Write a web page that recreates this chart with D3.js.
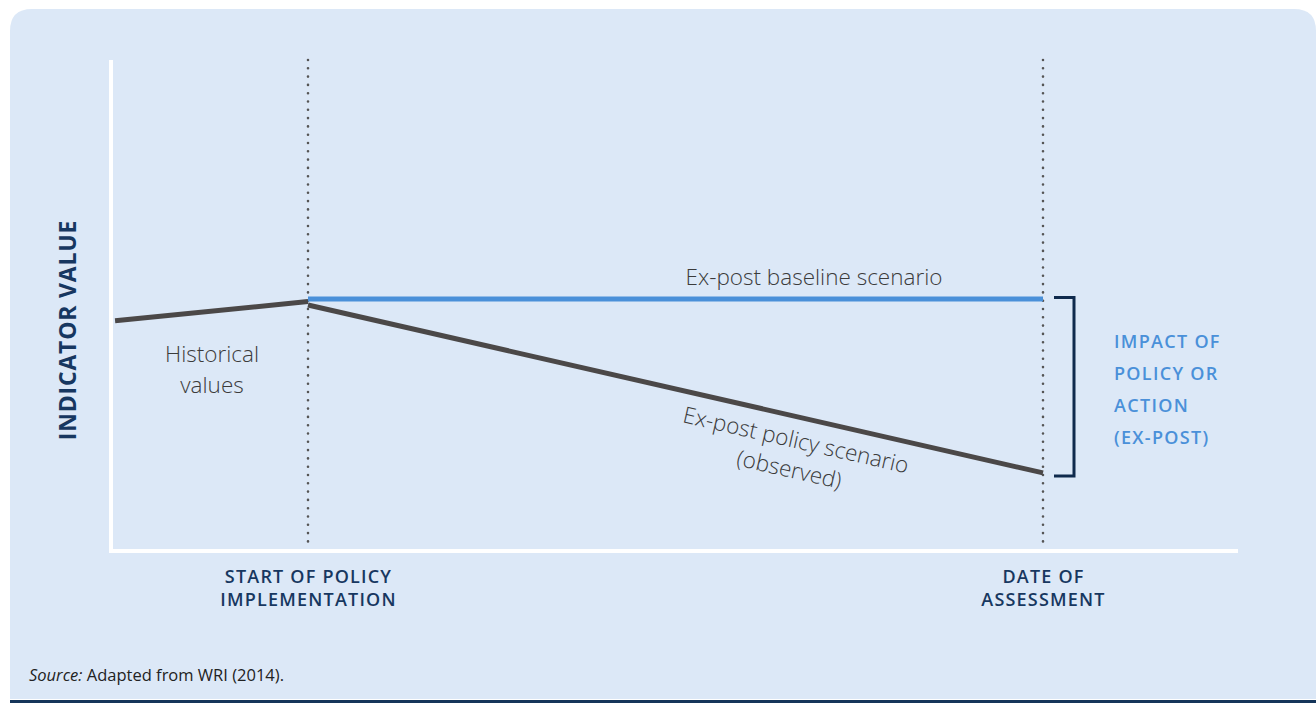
<!DOCTYPE html>
<html><head><meta charset="utf-8">
<script src="https://cdn.jsdelivr.net/npm/d3@7"></script>
<style>
html,body{margin:0;padding:0;background:#fff;}
svg{display:block;font-family:"Open Sans",sans-serif;}
</style></head>
<body>
<svg id="chart" width="1316" height="703"></svg>
<script>
// ---- data ----
const milestoneTimes = [1, 5];
const milestoneLabels = [["START OF POLICY", "IMPLEMENTATION"], ["DATE OF", "ASSESSMENT"]];
const historicalSeries = [{t: -0.05, v: 46.9}, {t: 1, v: 50.8}];
const baselineSeries = [{t: 1, v: 51.3}, {t: 5, v: 51.3}];
const policySeries = [{t: 1, v: 50.1}, {t: 5, v: 15.9}];
const impactLabel = ["IMPACT OF", "POLICY OR", "ACTION", "(EX-POST)"];
const historicalLabel = ["Historical", "values"];
const baselineLabel = "Ex-post baseline scenario";
const policyLabel = ["Ex-post policy scenario", "(observed)"];
const yAxisTitle = "INDICATOR VALUE";

const svg = d3.select("#chart");
const navy = "#173760", blue = "#4a90d9", gray = "#4b4848", panel = "#dce8f7";
const FONT = '"Open Sans", sans-serif';

// panel
const P = {x0: 10, y0: 9, x1: 1316, y1: 699, r: 22};
svg.append("path")
  .attr("d", `M${P.x0},${P.y1} V${P.y0 + P.r} Q${P.x0},${P.y0} ${P.x0 + P.r},${P.y0} H${P.x1 - P.r} Q${P.x1},${P.y0} ${P.x1},${P.y0 + P.r} V${P.y1} Z`)
  .attr("fill", panel);
svg.append("rect").attr("x", 10).attr("y", 700).attr("width", 1306).attr("height", 3).attr("fill", "#15355a");

// scales
const x = d3.scaleLinear().domain([1, 5]).range([308, 1043]);
const y = d3.scaleLinear().domain([0, 100]).range([551, 60]);
const xEnd = 1238;

// axes
const xAxis = d3.axisBottom(x).tickValues(milestoneTimes).tickSize(0).tickSizeOuter(0).tickFormat("");
const gx = svg.append("g").attr("transform", `translate(0,${y(0)})`).call(xAxis).attr("font-family", FONT);
gx.select(".domain").attr("d", `M109,0H${xEnd}`).attr("stroke", "#fff").attr("stroke-width", 4);
gx.selectAll(".tick").each(function(d, i) {
  const t = d3.select(this).select("text").text(null)
    .attr("fill", navy).attr("font-size", 18).attr("font-weight", 600)
    .attr("letter-spacing", 1.2).attr("y", 0).attr("dy", null);
  milestoneLabels[i].forEach((s, j) => t.append("tspan").attr("x", 0).attr("y", 32 + j * 23).text(s));
});

const yAxis = d3.axisLeft(y).tickValues([]).tickSizeOuter(0);
const gy = svg.append("g").attr("transform", `translate(111,0)`).call(yAxis);
gy.select(".domain").attr("d", `M0,${y(100)}V${y(0) + 2}`).attr("stroke", "#fff").attr("stroke-width", 4);

// dotted verticals
svg.selectAll(".vdot").data(milestoneTimes).join("line")
  .attr("x1", d => x(d)).attr("x2", d => x(d))
  .attr("y1", y(100)).attr("y2", y(0) - 3)
  .attr("stroke", "#555").attr("stroke-width", 2.6)
  .attr("stroke-linecap", "round").attr("stroke-dasharray", "0 8.3");

// lines
const line = d3.line().x(d => x(d.t)).y(d => y(d.v));
svg.append("path").datum(historicalSeries).attr("d", line).attr("fill", "none").attr("stroke", gray).attr("stroke-width", 5);
svg.append("path").datum(policySeries).attr("d", line).attr("fill", "none").attr("stroke", gray).attr("stroke-width", 5);
svg.append("path").datum(baselineSeries).attr("d", line).attr("fill", "none").attr("stroke", blue).attr("stroke-width", 5);

// bracket
const bTop = y(baselineSeries[1].v) - 1.5, bBot = y(policySeries[1].v) + 3;
svg.append("path").attr("d", `M1054,${bTop}H1074V${bBot}H1054`)
  .attr("fill", "none").attr("stroke", "#0f2a4d").attr("stroke-width", 3);

// impact label
const imp = svg.append("text").attr("fill", blue).attr("font-size", 18).attr("font-weight", 600).attr("letter-spacing", 1.3);
impactLabel.forEach((s, i) => imp.append("tspan").attr("x", 1114).attr("y", 348 + i * 32).text(s));

// historical label
const hist = svg.append("text").attr("fill", "#3b3b3b").attr("font-size", 22.5).attr("font-weight", 300).attr("text-anchor", "middle");
historicalLabel.forEach((s, i) => hist.append("tspan").attr("x", 212).attr("y", 362 + i * 31).text(s));

// baseline label
svg.append("text").attr("x", 814).attr("y", 285).attr("fill", "#3b3b3b")
  .attr("font-size", 22.5).attr("font-weight", 300).attr("text-anchor", "middle").text(baselineLabel);

// policy label rotated along the line
const ang = Math.atan2(y(policySeries[1].v) - y(policySeries[0].v), x(5) - x(1)) * 180 / Math.PI;
const pol = svg.append("text").attr("transform", `translate(796,440) rotate(${ang})`)
  .attr("fill", "#3b3b3b").attr("font-size", 22.5).attr("font-weight", 300).attr("text-anchor", "middle");
policyLabel.forEach((s, i) => pol.append("tspan").attr("x", 0).attr("y", 8 + i * 30).text(s));

// y axis title
svg.append("text").attr("transform", "translate(76,330) rotate(-90)").attr("text-anchor", "middle")
  .attr("fill", navy).attr("font-size", 23).attr("font-weight", 700).attr("letter-spacing", 0.8).text(yAxisTitle);

// source
const src = svg.append("text").attr("x", 29).attr("y", 681).attr("fill", "#222").attr("font-size", 16.5);
src.append("tspan").attr("font-style", "italic").text("Source:");
src.append("tspan").text(" Adapted from WRI (2014).");
</script>
</body></html>
